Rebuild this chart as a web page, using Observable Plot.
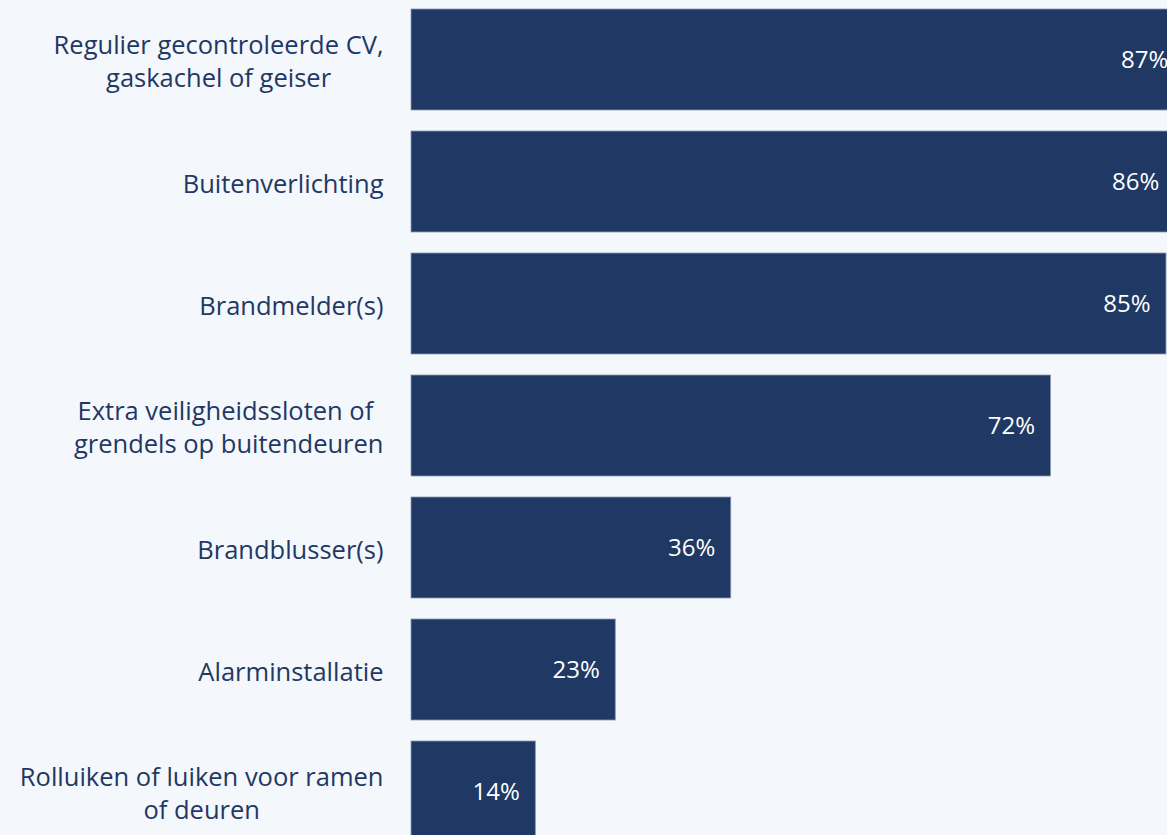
<!DOCTYPE html>
<html>
<head>
<meta charset="utf-8">
<script src="https://cdn.jsdelivr.net/npm/d3@7"></script>
<script src="https://cdn.jsdelivr.net/npm/@observablehq/plot@0.6"></script>
<style>
  html, body { margin: 0; padding: 0; background: #f4f7fb; overflow: hidden; }
  #chart svg { display: block; overflow: hidden; }
</style>
</head>
<body>
<div id="chart"></div>
<script>
const categories = [
  "Regulier gecontroleerde CV,\ngaskachel of geiser",
  "Buitenverlichting",
  "Brandmelder(s)",
  "Extra veiligheidssloten of \ngrendels op buitendeuren",
  "Brandblusser(s)",
  "Alarminstallatie",
  "Rolluiken of luiken voor ramen\nof deuren"
];
const values = [87, 86, 85, 72, 36, 23, 14];
const valueLabels = ["87%", "86%", "85%", "72%", "36%", "23%", "14%"];

const data = categories.map((c, i) => ({cat: c, value: values[i], label: valueLabels[i]}));

const navy = "#1f3864";
const labelSize = 25.5;
const canvas = document.createElement("canvas");
const ctx = canvas.getContext("2d");
ctx.font = `${labelSize}px 'Open Sans'`;
function blockWidth(s) {
  return d3.max(s.split("\n"), l => ctx.measureText(l).width);
}

const labelMarks = categories.map(c =>
  Plot.text([c], {
    y: d => d,
    text: d => d,
    frameAnchor: "left",
    textAnchor: "middle",
    dx: -28 - blockWidth(c) / 2,
    fill: navy,
    fontSize: labelSize,
    lineHeight: 1.3
  })
);

const chart = Plot.plot({
  width: 1167,
  height: 851,
  marginLeft: 411,
  marginRight: 1,
  marginTop: 0,
  marginBottom: 0,
  style: {background: "#f4f7fb", fontFamily: "'Open Sans', sans-serif"},
  x: {domain: [0, 85], axis: null},
  y: {domain: categories, paddingInner: 0.17, paddingOuter: 0.07, axis: null},
  marks: [
    Plot.barX(data, {x: "value", y: "cat", fill: navy, stroke: "#8c9bb5", strokeWidth: 0.8}),
    Plot.text(data, {x: "value", y: "cat", text: "label", textAnchor: "end", dx: -16, fill: "white", fontSize: 24}),
    ...labelMarks
  ]
});
document.getElementById("chart").appendChild(chart);
</script>
</body>
</html>
